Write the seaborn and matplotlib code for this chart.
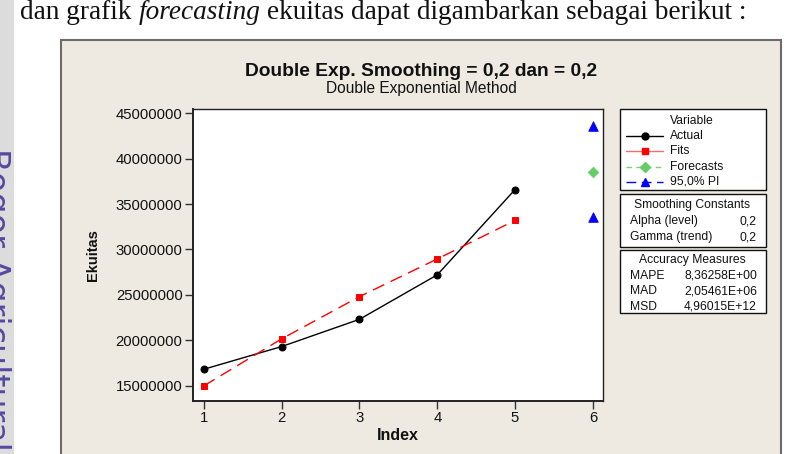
import numpy as np
import pandas as pd
import matplotlib
matplotlib.use("Agg")
import matplotlib.pyplot as plt
from matplotlib.patches import Rectangle
from matplotlib.lines import Line2D
import seaborn as sns

# ---------------- data ----------------
index = [1, 2, 3, 4, 5]
actual = [16.8e6, 19.3e6, 22.3e6, 27.2e6, 36.6e6]
fits = [14.97e6, 20.15e6, 24.8e6, 28.95e6, 33.2e6]
forecast_index = [6]
forecast = [38.55e6]
pi_lower = [33.6e6]
pi_upper = [43.65e6]
yticks = [15000000, 20000000, 25000000, 30000000, 35000000, 40000000, 45000000]
xticks = [1, 2, 3, 4, 5, 6]
smoothing_rows = [("Alpha (level)", "0,2"), ("Gamma (trend)", "0,2")]
accuracy_rows = [("MAPE", "8,36258E+00"), ("MAD", "2,05461E+06"), ("MSD", "4,96015E+12")]
legend_items = ["Actual", "Fits", "Forecasts", "95,0% PI"]

df = pd.DataFrame({"Index": index, "Actual": actual, "Fits": fits})
df_fc = pd.DataFrame({"Index": forecast_index, "Forecast": forecast,
                      "Lower": pi_lower, "Upper": pi_upper})

# ---------------- style ----------------
sns.set_style("ticks")
plt.rcParams["font.family"] = ["Liberation Sans", "DejaVu Sans"]

W, H = 796, 454
fig = plt.figure(figsize=(W / 100, H / 100), dpi=100)
fig.patch.set_facecolor("white")

def fx(px):
    return px / W

def fy(py):
    return 1 - py / H

# left gray strip
fig.patches.append(Rectangle((0, 0), fx(14), 1, transform=fig.transFigure,
                             facecolor="#DCDCDC", edgecolor="none", zorder=-3))
# panel
fig.patches.append(Rectangle((fx(61), fy(470)), fx(781 - 61), (470 - 40) / H,
                             transform=fig.transFigure, facecolor="#EEEAE1",
                             edgecolor="#6B6B6B", linewidth=1.5, zorder=-2))

# watermark (partly outside the page, as in the scan)
fig.text(fx(-6), fy(148), "Bogor Agricultural University", rotation=-90,
         ha="center", va="top", fontsize=24, color="#5548A0",
         family=["DejaVu Sans"])

# heading text
renderer = fig.canvas.get_renderer()
pieces = [("dan grafik ", "normal"), ("forecasting", "italic"),
          (" ekuitas dapat digambarkan sebagai berikut :", "normal")]
xpos = 20
for s, st in pieces:
    t = fig.text(fx(xpos), fy(19), s, fontsize=19.6, style=st,
                 family=["Liberation Serif"], ha="left", va="baseline", color="#111111")
    bb = t.get_window_extent(renderer=renderer)
    xpos += bb.width

# ---------------- main axes ----------------
ax = fig.add_axes([fx(193), fy(401), fx(603 - 193), (401 - 109) / H])
ax.set_facecolor("white")

sns.lineplot(data=df, x="Index", y="Actual", ax=ax, color="black", linewidth=1.0,
             marker="o", markersize=5, markeredgecolor="black", legend=False)
sns.lineplot(data=df, x="Index", y="Fits", ax=ax, color="#FF0000", linewidth=1.0,
             marker="s", markersize=5, markeredgecolor="#FF0000", legend=False,
             dashes=False)
ax.lines[-1].set_dashes([9, 5])
sns.scatterplot(data=df_fc, x="Index", y="Forecast", ax=ax, color="#66CC66",
                marker="D", s=30, edgecolor="#66CC66", legend=False, zorder=4)
sns.scatterplot(data=df_fc, x="Index", y="Upper", ax=ax, color="#0000FF",
                marker="^", s=48, edgecolor="#0000FF", legend=False, zorder=4)
sns.scatterplot(data=df_fc, x="Index", y="Lower", ax=ax, color="#0000FF",
                marker="^", s=48, edgecolor="#0000FF", legend=False, zorder=4)

ax.set_xlim(0.86, 6.13)
ax.set_ylim(13.3e6, 45.47e6)
ax.set_xticks(xticks)
ax.set_xticklabels([str(v) for v in xticks])
ax.set_yticks(yticks)
ax.set_yticklabels([f"{v:d}" for v in yticks])
ax.tick_params(axis="both", direction="out", length=5.5, width=1, color="#333333",
               labelsize=10.7, labelcolor="#111111", pad=2)
for sp in ax.spines.values():
    sp.set_visible(True)
    sp.set_color("#222222")
    sp.set_linewidth(1.0)
ax.spines["left"].set_linewidth(1.4)
ax.spines["bottom"].set_linewidth(1.4)

ax.set_xlabel("Index", fontsize=11.5, fontweight="bold", color="#111111")
ax.set_ylabel("Ekuitas", fontsize=10.5, fontweight="bold", color="#111111")
ax.xaxis.set_label_coords(0.5, (401 - 435) / 292)
ax.xaxis.label.set_va("center")
ax.yaxis.set_label_coords((93 - 193) / 410, 0.5)
ax.yaxis.label.set_va("center")

# titles
fig.text(fx(421), fy(71), "Double Exp. Smoothing = 0,2 dan = 0,2", fontsize=13.8,
         fontweight="bold", ha="center", va="center", color="#111111")
fig.text(fx(421), fy(88.5), "Double Exponential Method", fontsize=11.2,
         ha="center", va="center", color="#111111")

# ---------------- side boxes (pixel overlay) ----------------
ov = fig.add_axes([0, 0, 1, 1], zorder=5)
ov.set_xlim(0, W)
ov.set_ylim(H, 0)
ov.axis("off")
ov.patch.set_alpha(0)

bx0, bx1 = 620, 766
for (y0, y1) in [(109, 190), (194, 247), (250, 313)]:
    ov.add_patch(Rectangle((bx0, y0), bx1 - bx0, y1 - y0, facecolor="white",
                           edgecolor="#111111", linewidth=1.0))

fs = 8.7
ov.text(692, 121, "Variable", fontsize=fs, ha="center", va="center", color="#111111")
styles = [
    dict(color="black", ls="-", marker="o", ms=5, mfc="black", mec="black"),
    dict(color="#F07070", ls="-", marker="s", ms=5, mfc="#FF0000", mec="#FF0000"),
    dict(color="#80CC80", ls=(0, (4, 3)), marker="D", ms=5, mfc="#66CC66", mec="#66CC66"),
    dict(color="#0000FF", ls=(0, (7, 4)), marker="^", ms=6, mfc="#0000FF", mec="#0000FF"),
]
for i, (lab, st) in enumerate(zip(legend_items, styles)):
    yy = 136 + i * 15.3
    ov.add_line(Line2D([626, 663], [yy, yy], color=st["color"], ls=st["ls"], lw=1.0))
    ov.add_line(Line2D([645], [yy], marker=st["marker"], ms=st["ms"],
                       mfc=st["mfc"], mec=st["mec"], ls="none"))
    ov.text(670, yy, lab, fontsize=fs, ha="left", va="center", color="#111111")

ov.text(692, 205, "Smoothing Constants", fontsize=fs, ha="center", va="center", color="#111111")
for i, (k, v) in enumerate(smoothing_rows):
    yy = 221 + i * 16
    ov.text(630, yy, k, fontsize=fs, ha="left", va="center", color="#111111")
    ov.text(756, yy, v, fontsize=fs, ha="right", va="center", color="#111111")

ov.text(692, 260, "Accuracy Measures", fontsize=fs, ha="center", va="center", color="#111111")
for i, (k, v) in enumerate(accuracy_rows):
    yy = 276 + i * 15.3
    ov.text(630, yy, k, fontsize=fs, ha="left", va="center", color="#111111")
    ov.text(757, yy, v, fontsize=fs, ha="right", va="center", color="#111111")

fig.savefig("out.png", dpi=100)
